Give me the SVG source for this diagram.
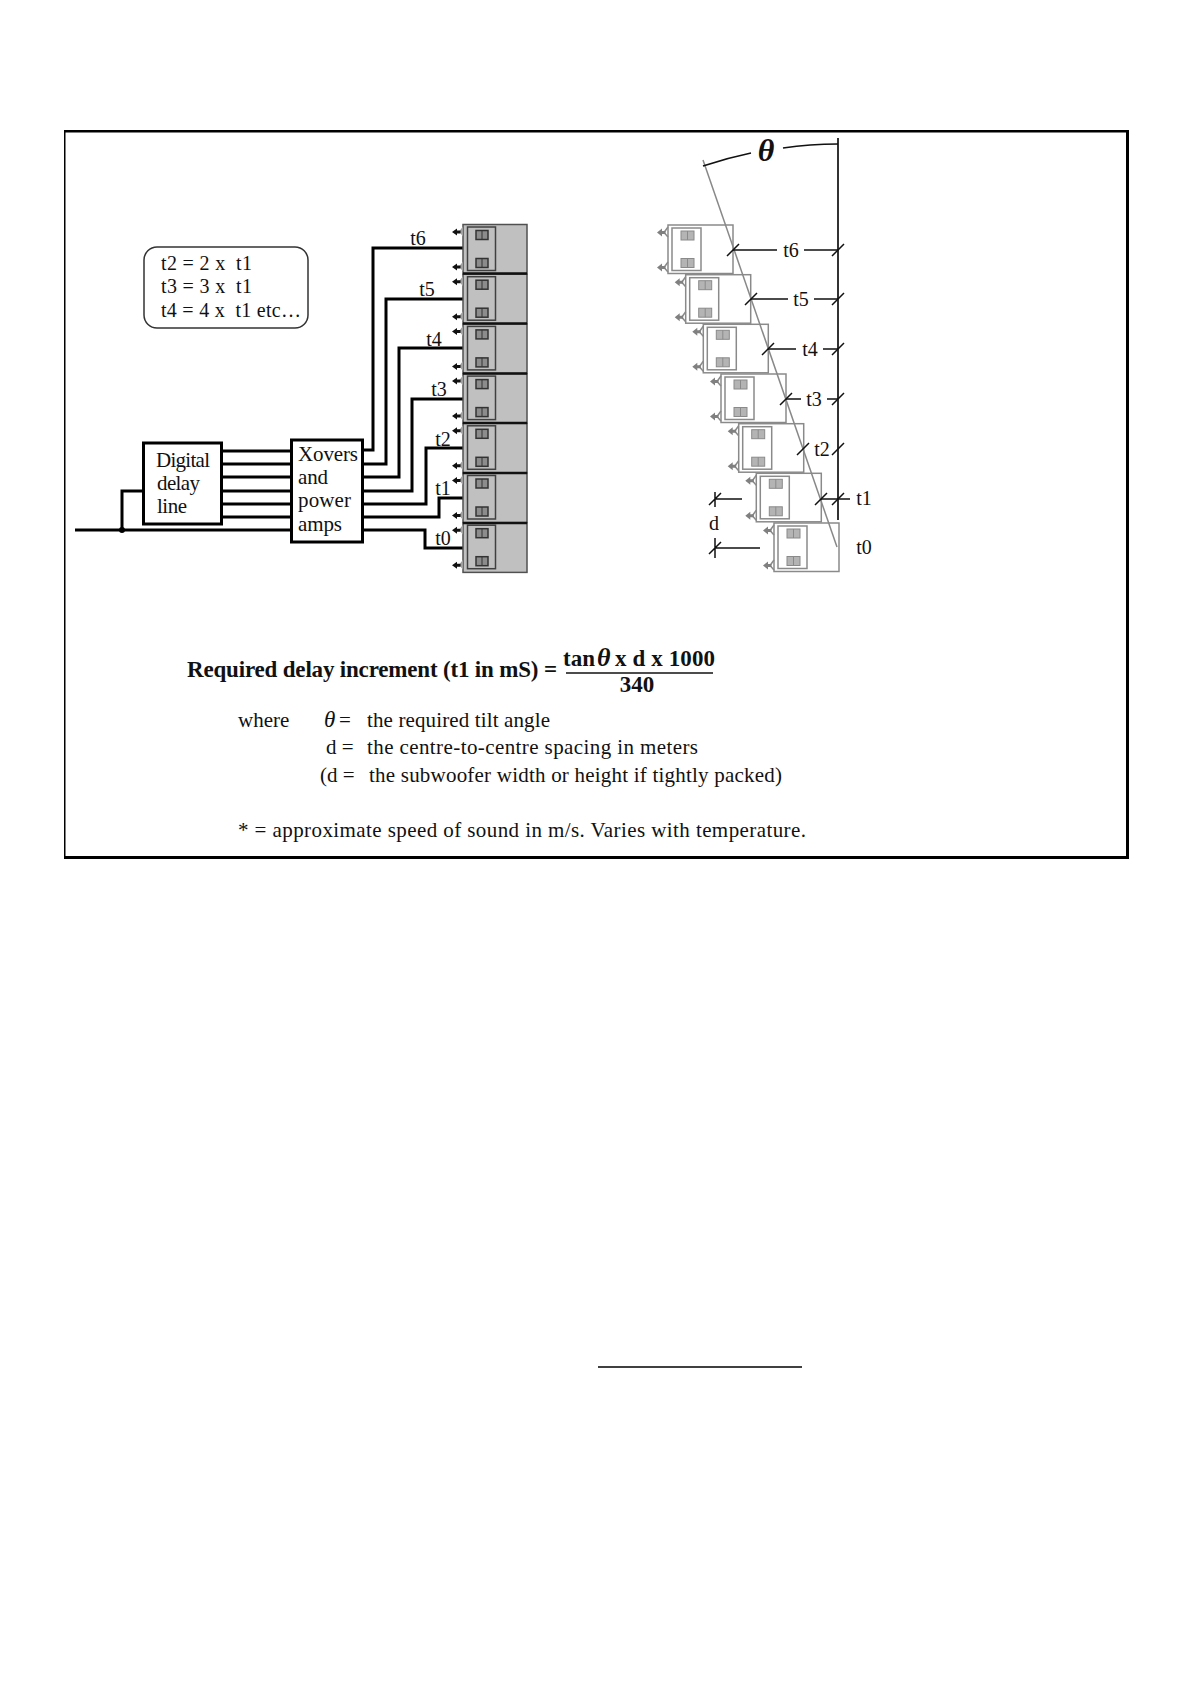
<svg xmlns="http://www.w3.org/2000/svg" width="1190" height="1684" viewBox="0 0 1190 1684">
<style>
text{font-family:"Liberation Serif","Times New Roman",serif;fill:#111;white-space:pre}
.l{font-size:20px}
.m{font-size:20px;text-anchor:middle}
.f{font-size:21px}
.b{font-size:23px;font-weight:bold}
.w{fill:none;stroke:#000;stroke-width:3;stroke-linejoin:miter}
.box{fill:#fff;stroke:#000;stroke-width:3}
.d{fill:none;stroke:#111;stroke-width:1.5}
.tick{fill:none;stroke:#111;stroke-width:1.5}
.gc{fill:#c0c0c0;stroke:#505050;stroke-width:1.5}
.gi{fill:none;stroke:#404040;stroke-width:1.5}
.gd{fill:#8c8c8c;stroke:#333;stroke-width:1.5}
.ga{fill:#111;stroke:none}
.gt{fill:#a0a0a0;stroke:none}
.rc{fill:#fff;stroke:#8a8a8a;stroke-width:1.5}
.ri{fill:none;stroke:#8a8a8a;stroke-width:1.5}
.rd{fill:#b4b4b4;stroke:#8a8a8a;stroke-width:1}
.ra{fill:#808080;stroke:none}
</style>
<defs>
<g id="gunit">
<rect class="gc" x="0" y="0" width="64" height="49.7"/>
<rect class="gi" x="4.500" y="2.500" width="28" height="43.500"/>
<rect class="gd" x="13" y="6" width="12" height="9"/><line x1="19" y1="6" x2="19" y2="15" stroke="#333"/>
<rect class="gd" x="13" y="34" width="12" height="9"/><line x1="19" y1="34" x2="19" y2="43" stroke="#333"/>
<path class="gt" d="M-4 7 L0 2 L0 12Z M-4 42 L0 37 L0 47Z"/>
<path class="ga" d="M-11 7.500 L-6 4 L-6 6 L-2.500 6 L-2.500 9 L-6 9 L-6 11Z M-11 42.500 L-6 39 L-6 41 L-2.500 41 L-2.500 44 L-6 44 L-6 46Z"/>
</g>
<g id="runit">
<rect class="rc" x="0" y="0" width="65" height="48.500"/>
<rect class="ri" x="4" y="3" width="29" height="42.500"/>
<rect class="rd" x="13" y="6" width="13" height="9"/><line x1="19.500" y1="6" x2="19.500" y2="15" stroke="#8a8a8a"/>
<rect class="rd" x="13" y="33.500" width="13" height="9"/><line x1="19.500" y1="33.500" x2="19.500" y2="42.500" stroke="#8a8a8a"/>
<path class="ri" d="M0 2 L-4 7.500 L0 12 M0 37 L-4 42.500 L0 47"/>
<path class="ra" d="M-11 7.500 L-6 3.500 L-6 6 L-2.500 6 L-2.500 9 L-6 9 L-6 11.500Z M-11 42.500 L-6 38.500 L-6 41 L-2.500 41 L-2.500 44 L-6 44 L-6 46.500Z"/>
</g>
</defs>
<rect width="1190" height="1684" fill="#fff"/>
<g id="frame" fill="#000">
<rect x="64" y="130" width="1065" height="2.500"/>
<rect x="64" y="130" width="1.500" height="729"/>
<rect x="1126" y="130" width="3" height="729"/>
<rect x="64" y="856" width="1065" height="3"/>
</g>
<g id="note">
<rect x="144" y="247" width="164" height="81" rx="13" fill="#fff" stroke="#333" stroke-width="1.500"/>
<text class="l" x="161" y="270" textLength="91">t2 = 2 x  t1</text>
<text class="l" x="161" y="293" textLength="91">t3 = 3 x  t1</text>
<text class="l" x="161" y="317" textLength="140">t4 = 4 x  t1 etc…</text>
</g>
<g id="connectors">
<path class="w" d="M75 530 H291 M122 530 V491 H143"/>
<circle cx="122" cy="530" r="3" fill="#000"/>
<path class="w" d="M222 451 H291 M222 464 H291 M222 477 H291 M222 491 H291 M222 504 H291 M222 517 H291"/>
<path class="w" d="M363 450 H373 V248 H463 M363 464 H386 V299 H463 M363 477 H399 V348 H463 M363 491 H412 V399 H463 M363 504 H426 V448 H463 M363 517 H439 V498 H463 M363 530 H425 V548 H463"/>
</g>
<g id="delay">
<rect class="box" x="143.500" y="443" width="78" height="81"/>
<text class="f" x="156" y="467" textLength="54">Digital</text>
<text class="f" x="157" y="490" textLength="43">delay</text>
<text class="f" x="157" y="513" textLength="30">line</text>
</g>
<g id="amps">
<rect class="box" x="291.500" y="440" width="71" height="102"/>
<text class="f" x="298" y="461" textLength="60">Xovers</text>
<text class="f" x="298" y="484" textLength="30">and</text>
<text class="f" x="298" y="507" textLength="53">power</text>
<text class="f" x="298" y="531" textLength="44">amps</text>
</g>
<g id="left-array">
<use href="#gunit" x="463" y="224.500"/>
<use href="#gunit" x="463" y="274.200"/>
<use href="#gunit" x="463" y="323.900"/>
<use href="#gunit" x="463" y="373.600"/>
<use href="#gunit" x="463" y="423.300"/>
<use href="#gunit" x="463" y="473"/>
<use href="#gunit" x="463" y="522.700"/>
<path d="M463 273.500 H527 M463 323.500 H527 M463 373.500 H527 M463 423 H527 M463 473 H527 M463 523 H527" stroke="#111" stroke-width="2.500" fill="none"/>
</g>
<g id="left-labels">
<text class="m" x="418" y="245">t6</text>
<text class="m" x="427" y="296">t5</text>
<text class="m" x="434" y="346">t4</text>
<text class="m" x="439" y="396">t3</text>
<text class="m" x="443" y="446">t2</text>
<text class="m" x="443" y="495">t1</text>
<text class="m" x="443" y="545">t0</text>
</g>
<g id="right-array">
<use href="#runit" x="668" y="225"/>
<use href="#runit" x="685.700" y="274.700"/>
<use href="#runit" x="703.300" y="324.300"/>
<use href="#runit" x="721" y="374"/>
<use href="#runit" x="738.700" y="423.700"/>
<use href="#runit" x="756.300" y="473.300"/>
<use href="#runit" x="774" y="523"/>
</g>
<g id="tilt">
<line x1="703" y1="160" x2="837" y2="547" stroke="#888" stroke-width="1.500"/>
<line x1="838" y1="138" x2="838" y2="520" stroke="#333" stroke-width="2"/>
<path class="d" d="M703 166 Q727 158 751 153 M783 148 Q810 144 838 144"/>
<text x="766" y="161" font-size="32" font-weight="bold" font-style="italic" text-anchor="middle">θ</text>
<path class="tick" d="M733 250 H777 M804 250 H838 M751 299 H788 M814 299 H838 M768 349 H796 M823 349 H838 M786 399 H801 M827 399 H838 M821 499 H850"/>
<path class="tick" d="M727 256 L739 244 M832 256 L844 244 M745 305 L757 293 M832 305 L844 293 M762 355 L774 343 M832 355 L844 343 M780 405 L792 393 M832 405 L844 393 M797 455 L809 443 M832 455 L844 443 M815 505 L827 493 M832 505 L844 493"/>
<text class="m" x="791" y="257">t6</text>
<text class="m" x="801" y="306">t5</text>
<text class="m" x="810" y="356">t4</text>
<text class="m" x="814" y="406">t3</text>
<text class="m" x="822" y="456">t2</text>
<text class="m" x="864" y="505">t1</text>
<text class="m" x="864" y="554">t0</text>
<path class="tick" d="M715 499 H742 M715 548 H760 M715 492 V507 M715 538 V558 M709 505 L721 493 M709 554 L721 542"/>
<text class="m" x="714" y="530">d</text>
</g>
<g id="formula">
<text class="b" x="187" y="677" textLength="370">Required delay increment (t1 in mS) =</text>
<text class="b" x="563" y="666">tan</text>
<text x="597" y="666" font-size="26" font-weight="bold" font-style="italic">θ</text>
<text class="b" x="615" y="666" textLength="100">x d x 1000</text>
<line x1="566" y1="673" x2="713" y2="673" stroke="#111" stroke-width="1.500"/>
<text class="b" x="637" y="692" text-anchor="middle">340</text>
<text class="f" x="238" y="727">where</text>
<text x="324" y="727" font-size="23" font-style="italic">θ</text>
<text class="f" x="339" y="727">=</text>
<text class="f" x="367" y="727" textLength="183">the required tilt angle</text>
<text class="f" x="326" y="754">d =</text>
<text class="f" x="367" y="754" textLength="331">the centre-to-centre spacing in meters</text>
<text class="f" x="320" y="782">(d =</text>
<text class="f" x="369" y="782" textLength="413">the subwoofer width or height if tightly packed)</text>
<text class="f" x="238" y="837" textLength="568">* = approximate speed of sound in m/s. Varies with temperature.</text>
</g>
<line id="rule" x1="598" y1="1367" x2="802" y2="1367" stroke="#000" stroke-width="1.500"/>
</svg>
